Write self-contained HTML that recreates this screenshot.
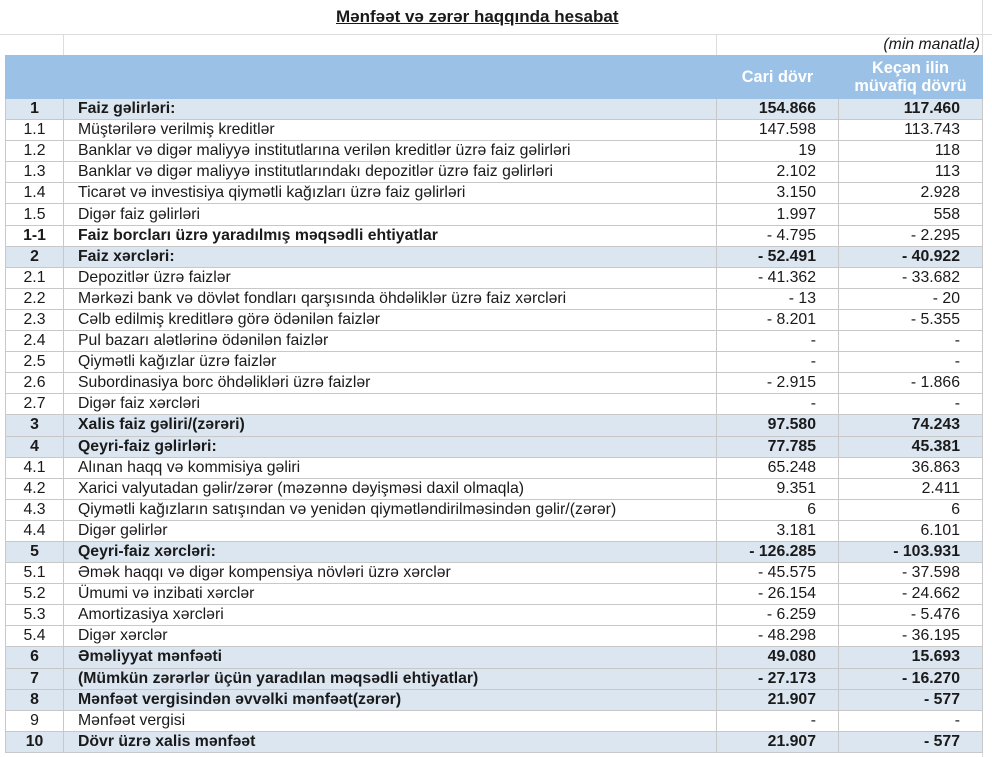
<!DOCTYPE html>
<html><head><meta charset="utf-8"><style>
body{margin:0;width:992px;height:757px;overflow:hidden;background:#fff;font-family:"Liberation Sans",Arial,sans-serif;font-size:15.8px;color:#1a1a1a;position:relative}
.g{position:absolute;background:#dcdcdc}
table{position:absolute;left:5px;top:55px;border-collapse:collapse;table-layout:fixed}
td{border:1px solid #c8c8c8;height:20.1px;padding:0;white-space:nowrap;overflow:hidden;line-height:20px}
td.n{text-align:center}
td.t{padding-left:14px}
td.v{text-align:right;padding-right:22px}
tr.h td{background:#9bc2e6;color:#fff;font-weight:bold;height:42px;line-height:18px;text-align:center;border-color:#9bc2e6;font-size:16.3px}
tr.b td{background:#dce6f1;font-weight:bold}
</style></head><body>
<div class="g" style="left:0;top:34px;width:992px;height:1px"></div>
<div class="g" style="left:63px;top:34px;width:1px;height:21px"></div>
<div class="g" style="left:716px;top:34px;width:1px;height:21px"></div>
<div class="g" style="left:982px;top:0;width:1px;height:757px"></div>
<div style="position:absolute;left:336px;top:7px;white-space:nowrap;font-weight:bold;text-decoration:underline;font-size:17px">Mənfəət və zərər haqqında hesabat</div>
<div style="position:absolute;right:12px;top:36px;font-style:italic">(min manatla)</div>
<table>
<colgroup><col style="width:58px"><col style="width:653px"><col style="width:122px"><col style="width:144px"></colgroup>
<tr class="h"><td></td><td></td><td>Cari dövr</td><td>Keçən ilin<br>müvafiq dövrü</td></tr>
<tr class="b"><td class="n">1</td><td class="t">Faiz gəlirləri:</td><td class="v">154.866</td><td class="v">117.460</td></tr>
<tr><td class="n">1.1</td><td class="t">Müştərilərə verilmiş kreditlər</td><td class="v">147.598</td><td class="v">113.743</td></tr>
<tr><td class="n">1.2</td><td class="t">Banklar və digər maliyyə institutlarına verilən kreditlər üzrə faiz gəlirləri</td><td class="v">19</td><td class="v">118</td></tr>
<tr><td class="n">1.3</td><td class="t">Banklar və digər maliyyə institutlarındakı depozitlər üzrə faiz gəlirləri</td><td class="v">2.102</td><td class="v">113</td></tr>
<tr><td class="n">1.4</td><td class="t">Ticarət və investisiya qiymətli kağızları üzrə faiz gəlirləri</td><td class="v">3.150</td><td class="v">2.928</td></tr>
<tr><td class="n">1.5</td><td class="t">Digər faiz gəlirləri</td><td class="v">1.997</td><td class="v">558</td></tr>
<tr style="font-weight:bold"><td class="n">1-1</td><td class="t">Faiz borcları üzrə yaradılmış məqsədli ehtiyatlar</td><td class="v" style="font-weight:normal">- 4.795</td><td class="v" style="font-weight:normal">- 2.295</td></tr>
<tr class="b"><td class="n">2</td><td class="t">Faiz xərcləri:</td><td class="v">- 52.491</td><td class="v">- 40.922</td></tr>
<tr><td class="n">2.1</td><td class="t">Depozitlər üzrə faizlər</td><td class="v">- 41.362</td><td class="v">- 33.682</td></tr>
<tr><td class="n">2.2</td><td class="t">Mərkəzi bank və dövlət fondları qarşısında öhdəliklər üzrə faiz xərcləri</td><td class="v">- 13</td><td class="v">- 20</td></tr>
<tr><td class="n">2.3</td><td class="t">Cəlb edilmiş kreditlərə görə ödənilən faizlər</td><td class="v">- 8.201</td><td class="v">- 5.355</td></tr>
<tr><td class="n">2.4</td><td class="t">Pul bazarı alətlərinə ödənilən faizlər</td><td class="v">-</td><td class="v">-</td></tr>
<tr><td class="n">2.5</td><td class="t">Qiymətli kağızlar üzrə faizlər</td><td class="v">-</td><td class="v">-</td></tr>
<tr><td class="n">2.6</td><td class="t">Subordinasiya borc öhdəlikləri üzrə faizlər</td><td class="v">- 2.915</td><td class="v">- 1.866</td></tr>
<tr><td class="n">2.7</td><td class="t">Digər faiz xərcləri</td><td class="v">-</td><td class="v">-</td></tr>
<tr class="b"><td class="n">3</td><td class="t">Xalis faiz gəliri/(zərəri)</td><td class="v">97.580</td><td class="v">74.243</td></tr>
<tr class="b"><td class="n">4</td><td class="t">Qeyri-faiz gəlirləri:</td><td class="v">77.785</td><td class="v">45.381</td></tr>
<tr><td class="n">4.1</td><td class="t">Alınan haqq və kommisiya gəliri</td><td class="v">65.248</td><td class="v">36.863</td></tr>
<tr><td class="n">4.2</td><td class="t">Xarici valyutadan gəlir/zərər (məzənnə dəyişməsi daxil olmaqla)</td><td class="v">9.351</td><td class="v">2.411</td></tr>
<tr><td class="n">4.3</td><td class="t">Qiymətli kağızların satışından və yenidən qiymətləndirilməsindən gəlir/(zərər)</td><td class="v">6</td><td class="v">6</td></tr>
<tr><td class="n">4.4</td><td class="t">Digər gəlirlər</td><td class="v">3.181</td><td class="v">6.101</td></tr>
<tr class="b"><td class="n">5</td><td class="t">Qeyri-faiz xərcləri:</td><td class="v">- 126.285</td><td class="v">- 103.931</td></tr>
<tr><td class="n">5.1</td><td class="t">Əmək haqqı və digər kompensiya növləri üzrə xərclər</td><td class="v">- 45.575</td><td class="v">- 37.598</td></tr>
<tr><td class="n">5.2</td><td class="t">Ümumi və inzibati xərclər</td><td class="v">- 26.154</td><td class="v">- 24.662</td></tr>
<tr><td class="n">5.3</td><td class="t">Amortizasiya xərcləri</td><td class="v">- 6.259</td><td class="v">- 5.476</td></tr>
<tr><td class="n">5.4</td><td class="t">Digər xərclər</td><td class="v">- 48.298</td><td class="v">- 36.195</td></tr>
<tr class="b"><td class="n">6</td><td class="t">Əməliyyat mənfəəti</td><td class="v">49.080</td><td class="v">15.693</td></tr>
<tr class="b"><td class="n">7</td><td class="t">(Mümkün zərərlər üçün yaradılan məqsədli ehtiyatlar)</td><td class="v">- 27.173</td><td class="v">- 16.270</td></tr>
<tr class="b"><td class="n">8</td><td class="t">Mənfəət vergisindən əvvəlki mənfəət(zərər)</td><td class="v">21.907</td><td class="v">- 577</td></tr>
<tr><td class="n">9</td><td class="t">Mənfəət vergisi</td><td class="v">-</td><td class="v">-</td></tr>
<tr class="b"><td class="n">10</td><td class="t">Dövr üzrə xalis mənfəət</td><td class="v">21.907</td><td class="v">- 577</td></tr>
</table>
</body></html>
